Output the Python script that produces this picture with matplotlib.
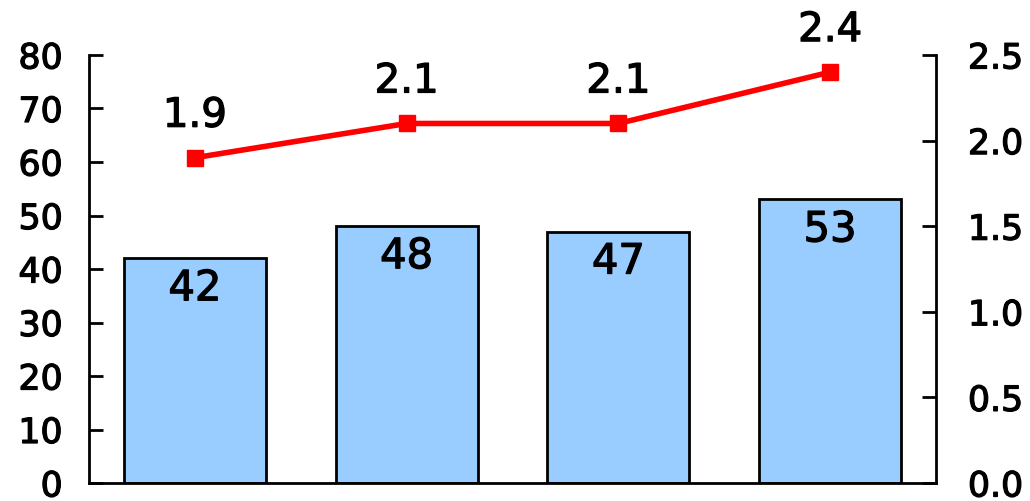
import matplotlib
matplotlib.use("Agg")
import matplotlib.pyplot as plt
import matplotlib.patheffects as pe

categories = ["A", "B", "C", "D"]
bar_values = [42, 48, 47, 53]
line_values = [1.9, 2.1, 2.1, 2.4]
right_ticks = [0.0, 0.5, 1.0, 1.5, 2.0, 2.5]

plt.rcParams["font.family"] = ["DejaVu Sans"]
# slightly heavier strokes than regular weight
heavy = [pe.withStroke(linewidth=0.9, foreground="black")]

fig = plt.figure(figsize=(10.30, 5.01), dpi=100)
ax = fig.add_axes([89 / 1030, 1 - 483 / 501, (936 - 89) / 1030, (483 - 55) / 501])

x = list(range(len(categories)))
ax.bar(x, bar_values, width=0.67, color="#99CCFF", edgecolor="black", linewidth=2, zorder=2)
ax.set_xlim(-0.5, 3.5)
ax.set_ylim(0, 80)
ax.set_yticks(range(0, 81, 10))
ax.set_xticks([])
for s in ["top", "right"]:
    ax.spines[s].set_visible(False)
ax.spines["left"].set_linewidth(2)
ax.spines["bottom"].set_linewidth(2)
ax.tick_params(axis="y", direction="in", length=10, width=2, labelsize=25, pad=19)

for xi, v in zip(x, bar_values):
    ax.annotate(str(v), (xi, v), xytext=(0, -30), textcoords="offset pixels",
                ha="center", va="center", fontsize=30, path_effects=heavy)

ax2 = ax.twinx()
ax2.set_ylim(0, 2.5)
ax2.set_yticks(right_ticks)
ax2.set_yticklabels([f"{t:.1f}" for t in right_ticks])
for s in ["top", "left", "bottom"]:
    ax2.spines[s].set_visible(False)
ax2.spines["right"].set_linewidth(2)
ax2.tick_params(axis="y", direction="in", length=10, width=2, labelsize=25, pad=23)
ax2.plot(x, line_values, color="#FF0000", linewidth=4, marker="s", markersize=11, zorder=3)
for xi, v in zip(x, line_values):
    ax2.annotate(f"{v:.1f}", (xi, v), xytext=(0, 42), textcoords="offset pixels",
                 ha="center", va="center", fontsize=29, path_effects=heavy)

for lbl in ax.get_yticklabels() + ax2.get_yticklabels():
    lbl.set_path_effects(heavy)

fig.savefig("out.png", dpi=100)
